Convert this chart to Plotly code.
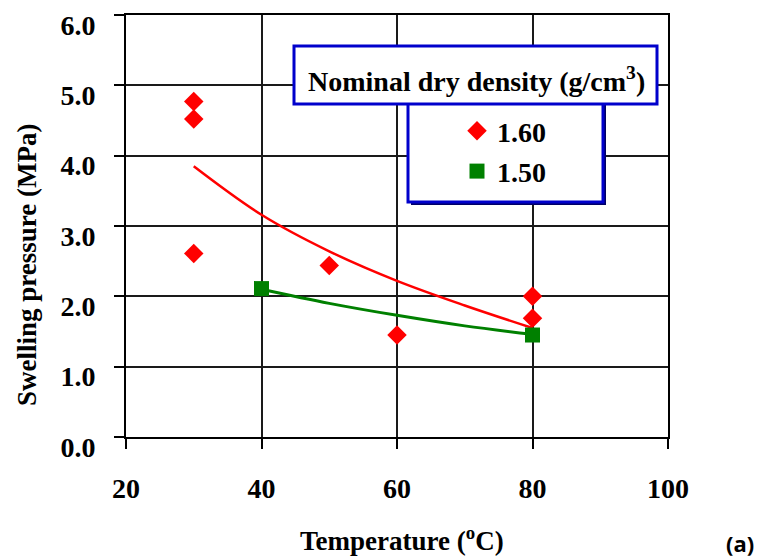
import plotly.graph_objects as go

# Measured swelling pressures (MPa) versus temperature (deg C)
temp_160 = [30, 30, 30, 50, 60, 80, 80]
press_160 = [4.77, 4.52, 2.61, 2.44, 1.45, 2.00, 1.69]

temp_150 = [40, 80]
press_150 = [2.11, 1.45]

# Trend curves through each density group
trend_temp_160 = [30, 40, 50, 60, 70, 80]
trend_press_160 = [3.85, 3.16, 2.64, 2.22, 1.87, 1.55]

trend_temp_150 = [40, 50, 60, 70, 80]
trend_press_150 = [2.10, 1.90, 1.73, 1.58, 1.46]

x_ticks = [20, 40, 60, 80, 100]
y_ticks = [0, 1, 2, 3, 4, 5, 6]

legend_title = "Nominal dry density (g/cm<sup>3</sup>)"
series_names = ["1.60", "1.50"]

RED = "#FF0000"
GREEN = "#008000"
BLUE = "#0000CC"
SERIF = "Liberation Serif"

fig = go.Figure()

fig.add_trace(go.Scatter(
    x=trend_temp_160, y=trend_press_160, mode="lines",
    line=dict(color=RED, width=2.5, shape="spline"),
    showlegend=False, hoverinfo="skip",
))
fig.add_trace(go.Scatter(
    x=trend_temp_150, y=trend_press_150, mode="lines",
    line=dict(color=GREEN, width=3, shape="spline"),
    showlegend=False, hoverinfo="skip",
))
fig.add_trace(go.Scatter(
    x=temp_160, y=press_160, mode="markers", name=series_names[0],
    marker=dict(symbol="diamond", size=15, color=RED),
    legendgroup="a",
))
fig.add_trace(go.Scatter(
    x=temp_150, y=press_150, mode="markers", name=series_names[1],
    marker=dict(symbol="square", size=15, color=GREEN),
    legendgroup="b",
))

axis_common = dict(
    showgrid=True, gridcolor="#1a1a1a", gridwidth=1.5,
    showline=True, linecolor="black", linewidth=2, mirror=True,
    ticks="outside", ticklen=10, tickwidth=1.5, tickcolor="black",
    zeroline=False, ticklabeloverflow="allow", automargin=False,
    tickfont=dict(family=SERIF, size=28, color="black", weight="bold"),
)

fig.update_xaxes(
    range=[20, 100], tickvals=x_ticks, ticktext=[str(v) for v in x_ticks],
    ticklabelstandoff=15, **axis_common,
)
fig.update_yaxes(
    range=[0, 6], tickvals=y_ticks, ticktext=[f"{v:.1f}" for v in y_ticks],
    ticklabelstandoff=13, ticklabelshift=10, **axis_common,
)


# Legend frames: title box on top, entry box below with a drop shadow
def px_x(p):
    return (p - 126) / 542


def px_y(p):
    return (437 - p) / 422


shapes = [
    dict(type="rect", xref="paper", yref="paper",
         x0=px_x(411), x1=px_x(606), y0=px_y(205), y1=px_y(104),
         fillcolor="#000066", line=dict(width=0), layer="above"),
    dict(type="rect", xref="paper", yref="paper",
         x0=px_x(408), x1=px_x(603), y0=px_y(202), y1=px_y(102),
         fillcolor="white", line=dict(color=BLUE, width=3), layer="above"),
    dict(type="rect", xref="paper", yref="paper",
         x0=px_x(294), x1=px_x(657), y0=px_y(104), y1=px_y(46),
         fillcolor="white", line=dict(color=BLUE, width=3), layer="above"),
]

annotations = [
    dict(text=legend_title, xref="paper", yref="paper",
         x=px_x(476), y=px_y(79), xanchor="center", yanchor="middle",
         showarrow=False,
         font=dict(family=SERIF, size=28, color="black", weight="bold")),
    dict(text="Swelling pressure (MPa)", xref="paper", yref="paper",
         x=px_x(27), y=px_y(265), xanchor="center", yanchor="middle",
         textangle=-90, showarrow=False,
         font=dict(family=SERIF, size=27, color="black", weight="bold")),
    dict(text="Temperature (<sup>o</sup>C)", xref="paper", yref="paper",
         x=px_x(402), y=px_y(539), xanchor="center", yanchor="middle",
         showarrow=False,
         font=dict(family=SERIF, size=27, color="black", weight="bold")),
    dict(text="(a)", xref="paper", yref="paper",
         x=px_x(740), y=px_y(543), xanchor="center", yanchor="middle",
         showarrow=False, borderpad=0,
         font=dict(family="Open Sans", size=22, color="black",
                   weight="bold")),
]

fig.update_layout(
    width=760, height=559,
    margin=dict(l=126, r=92, t=15, b=122, autoexpand=False),
    plot_bgcolor="white", paper_bgcolor="white",
    shapes=shapes, annotations=annotations,
    showlegend=True,
    legend=dict(
        x=px_x(457), y=px_y(106), xanchor="left", yanchor="top",
        bgcolor="rgba(0,0,0,0)", borderwidth=0,
        itemwidth=30, tracegroupgap=1,
        font=dict(family=SERIF, size=28, color="black", weight="bold"),
    ),
)

fig.write_html("out.html")
